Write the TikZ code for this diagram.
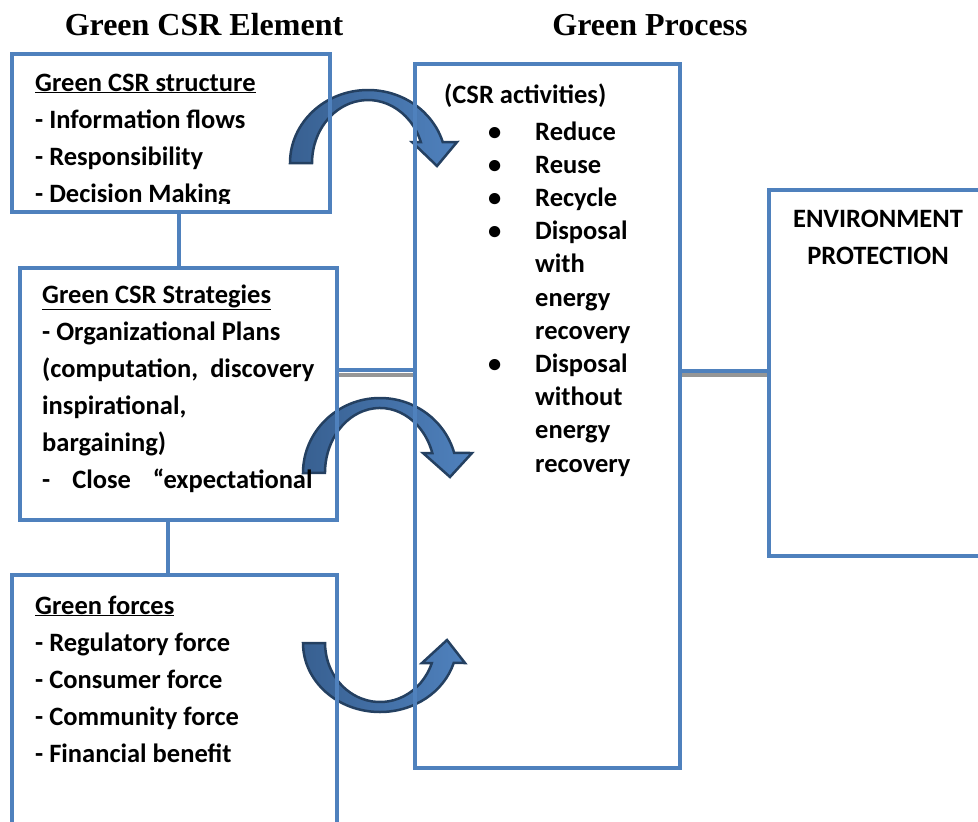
\documentclass[tikz,border=0pt]{standalone}
\usepackage{fontspec}
\setmainfont{Carlito}
\newfontfamily\headfont{Liberation Serif}

\definecolor{frameblue}{RGB}{79,129,189}
\definecolor{arrowedge}{RGB}{36,64,97}
\definecolor{arrowbody}{RGB}{79,129,189}
\definecolor{arrowdeep}{RGB}{56,96,145}
\definecolor{shadowgray}{RGB}{150,150,150}

% bullet hung to the left of an item
\newcommand\dotitem{\llap{\textbullet\hspace{34pt}}}

\begin{document}
\begin{tikzpicture}[x=1pt,y=-1pt]
  \tikzstyle{box}=[draw=frameblue,line width=4pt,inner sep=0pt]
  \tikzstyle{link}=[draw=frameblue,line width=4pt]
  \tikzstyle{shade}=[draw=shadowgray,line width=4pt]
  \tikzstyle{uturn}=[draw=arrowedge,line width=2.5pt,left color=arrowdeep,right color=arrowbody,line join=miter]
  \tikzstyle{body}=[inner sep=0pt,align=left,font=\bfseries\fontsize{26.5}{37}\selectfont]
  \tikzstyle{title}=[inner sep=0pt,font=\headfont\bfseries\fontsize{32}{37}\selectfont]
  \useasboundingbox (0,0) rectangle (978,822);
  \clip (0,0) rectangle (978,822);

  % curved arrows, behind the frames
  \path[uturn] (290,163) arc[start angle=180,end angle=343.3,x radius=78,y radius=73]
    -- (457,142) -- (437,166) -- (412,142) -- (420.8,142)
    arc[start angle=340.5,end angle=180,x radius=56,y radius=63] -- cycle;
  \path[uturn] (303,473) arc[start angle=180,end angle=344.5,x radius=77,y radius=75]
    -- (472,453) -- (450,477) -- (423,453) -- (432.3,453)
    arc[start angle=342.1,end angle=180,x radius=55,y radius=65] -- cycle;
  \path[uturn] (303,643) arc[start angle=180,end angle=16.8,x radius=77,y radius=69]
    -- (465,663) -- (447,640) -- (422,663) -- (431.8,663)
    arc[start angle=19.8,end angle=180,x radius=55,y radius=59] -- cycle;

  % frames
  \node[box,minimum width=318pt,minimum height=158pt] (structure)  at (171,133)   {};
  \node[box,minimum width=317pt,minimum height=252pt] (strategies) at (178.5,394) {};
  \node[box,minimum width=325pt,minimum height=300pt] (forces)     at (174.5,725) {};
  \node[box,minimum width=265pt,minimum height=704pt] (process)    at (547.5,416) {};
  \node[box,minimum width=240pt,minimum height=366pt] (protection) at (889,373)   {};

  % connectors
  \draw[link] (strategies.north |- structure.south) -- (strategies.north);
  \draw[link] ([xshift=-10.5pt]strategies.south) -- ([xshift=-10.5pt]strategies.south |- forces.north);
  \draw[shade] ([yshift=19pt]strategies.east) -- ([yshift=19pt]strategies.east -| process.west);
  \draw[link] ([yshift=24pt]strategies.east) -- ([yshift=24pt]strategies.east -| process.west);
  \draw[shade] ([yshift=41pt]process.east) -- ([yshift=41pt]process.east -| protection.west);
  \draw[link] ([yshift=45pt]process.east) -- ([yshift=45pt]process.east -| protection.west);

  % headings
  \node[title,anchor=base] (elementtitle) at (204,35) {Green CSR Element};
  \node[title,anchor=base] (processtitle) at (650,35) {Green Process};

  % box texts (anchored on the baseline of the last line)
  \begin{scope}
    \clip (14,56) rectangle (328,203);
    \node[body,anchor=base west] (structuretext) at (35,202)
      {\underline{Green CSR structure}\\- Information flows\\- Responsibility\\- Decision Making};
  \end{scope}
  \node[body,anchor=base west] (strategiestext) at (42,488)
    {\underline{Green CSR Strategies}\\- Organizational Plans\\(computation,~ discovery\\inspirational,\\bargaining)\\-\hspace{22pt}Close\hspace{22pt}“expectational};
  \node[body,anchor=base west] (forcestext) at (35,762)
    {\underline{Green forces}\\- Regulatory force\\- Consumer force\\- Community force\\- Financial benefit};
  \node[body,anchor=base west] (activitiestitle) at (444,103) {(CSR activities)};
  \node[body,anchor=base west,font=\bfseries\fontsize{26.5}{33.2}\selectfont] (activities) at (535,472)
    {\dotitem Reduce\\\dotitem Reuse\\\dotitem Recycle\\\dotitem Disposal\\with\\energy\\recovery\\\dotitem Disposal\\without\\energy\\recovery};
  \node[body,align=center,anchor=base] (protectiontext) at (878,264) {ENVIRONMENT\\PROTECTION};
\end{tikzpicture}
\end{document}
